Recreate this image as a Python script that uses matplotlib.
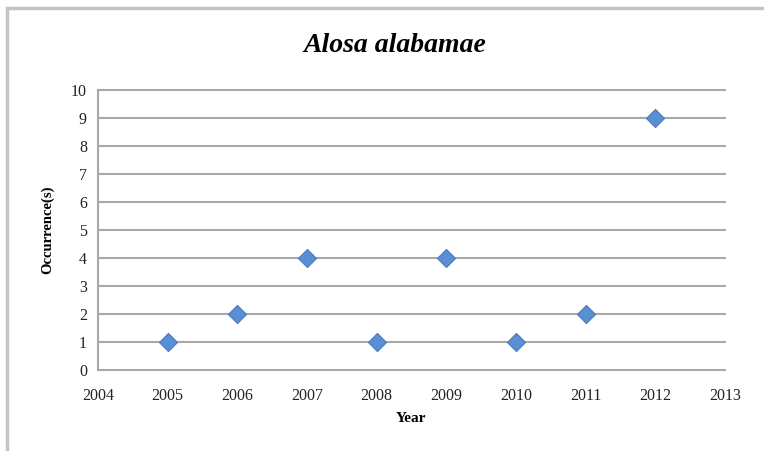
import matplotlib
matplotlib.use('Agg')
import matplotlib.pyplot as plt
from matplotlib.patches import Rectangle

years = [2005, 2006, 2007, 2008, 2009, 2010, 2011, 2012]
occurrences = [1, 2, 4, 1, 4, 1, 2, 9]

fig = plt.figure(figsize=(7.64, 4.51), dpi=100)
fig.patch.set_facecolor('white')

# outer chart frame (runs off the right and bottom edges)
fig.patches.append(Rectangle((7 / 764, -0.05), 1.0, 1 - 8 / 451 + 0.05,
                             transform=fig.transFigure, fill=False,
                             edgecolor='#c4c4c4', linewidth=2.5))

ax = fig.add_axes([98 / 764, 1 - 370 / 451, (725 - 98) / 764, 280 / 451])
ax.set_xlim(2004, 2013)
ax.set_ylim(0, 10)
ax.set_xticks(range(2004, 2014))
ax.set_yticks(range(0, 11))
for y in range(1, 11):
    ax.axhline(y, color='#a8a8a8', linewidth=1.5, clip_on=False, zorder=0)
for side in ['top', 'right']:
    ax.spines[side].set_visible(False)
for side in ['left', 'bottom']:
    ax.spines[side].set_color('#a8a8a8')
    ax.spines[side].set_linewidth(1.5)
ax.tick_params(length=0, labelsize=11.5, colors='#222222')
ax.tick_params(axis='x', pad=13)
ax.tick_params(axis='y', pad=8)
for lab in ax.get_xticklabels() + ax.get_yticklabels():
    lab.set_fontfamily('Liberation Serif')

ax.scatter(years, occurrences, marker='D', s=85, color='#5b8fd4',
           edgecolor='#4a7bbf', linewidth=0.8, zorder=3, clip_on=False)

ax.set_xlabel('Year', fontfamily='Liberation Serif', fontweight='bold',
              fontsize=11, labelpad=6)
ax.set_ylabel('Occurrence(s)', fontfamily='Liberation Serif', fontweight='bold',
              fontsize=10.5, labelpad=12)
fig.text(395 / 764, 1 - 45 / 451, 'Alosa alabamae', ha='center', va='center',
         fontfamily='Liberation Serif', fontweight='bold', fontstyle='italic',
         fontsize=20)

fig.savefig('out.png', dpi=100)
